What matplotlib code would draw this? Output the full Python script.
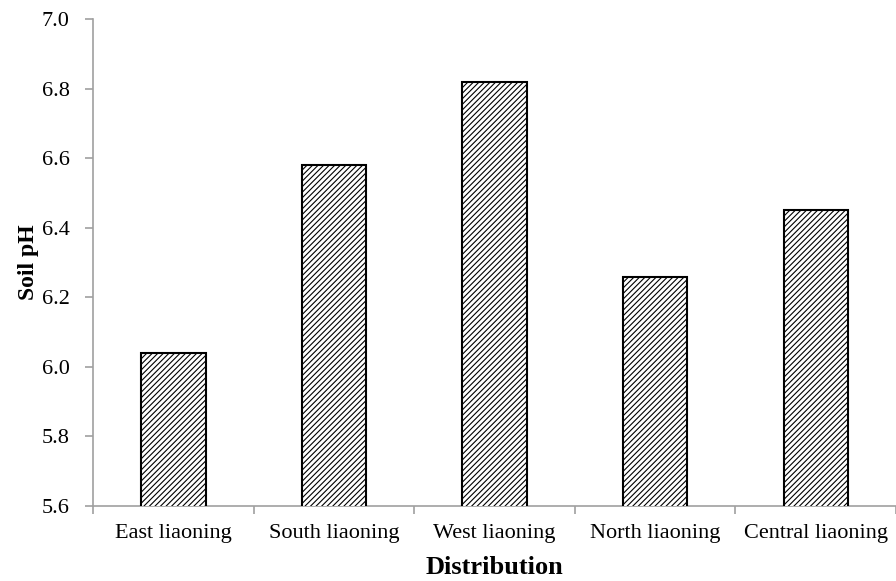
import numpy as np
import matplotlib
matplotlib.use("Agg")
import matplotlib.pyplot as plt

# Données
regions = ["East liaoning", "South liaoning", "West liaoning", "North liaoning", "Central liaoning"]
ph = [6.04, 6.58, 6.82, 6.26, 6.45]

plt.rcParams['font.family'] = ['Liberation Serif', 'DejaVu Serif']
plt.rcParams['hatch.linewidth'] = 0.8

fig = plt.figure(figsize=(8.96, 5.81), dpi=100)
ax = fig.add_axes([0.104, 0.129, 0.896, 0.838])

x = np.arange(len(regions))
ax.bar(x, ph, width=0.4, color="white", edgecolor="black", linewidth=1.5, hatch="//////", zorder=3)

ax.set_ylim(5.6, 7.0)
ax.set_xlim(-0.5, len(regions) - 0.5)
ax.set_yticks(np.arange(5.6, 7.01, 0.2))
ax.set_yticklabels([f"{v:.1f}" for v in np.arange(5.6, 7.01, 0.2)])

# graduations entre les catégories, étiquettes au centre
ax.set_xticks(np.arange(-0.5, len(regions), 1.0))
ax.set_xticklabels([])
ax.set_xticks(x, minor=True)
ax.set_xticklabels(regions, minor=True)
ax.tick_params(axis="x", which="minor", length=0, labelsize=16, pad=13)
ax.tick_params(axis="x", which="major", length=6, color="#a0a0a0", width=1.2)
ax.tick_params(axis="y", length=6, color="#a0a0a0", width=1.2, labelsize=16, pad=11)

for s in ["top", "right"]:
    ax.spines[s].set_visible(False)
for s in ["left", "bottom"]:
    ax.spines[s].set_color("#a0a0a0")
    ax.spines[s].set_linewidth(1.2)

ax.set_xlabel("Distribution", fontsize=19, fontweight="bold", labelpad=9)
ax.set_ylabel("Soil pH", fontsize=17, fontweight="bold", labelpad=2)

fig.savefig("out.png", dpi=100)
